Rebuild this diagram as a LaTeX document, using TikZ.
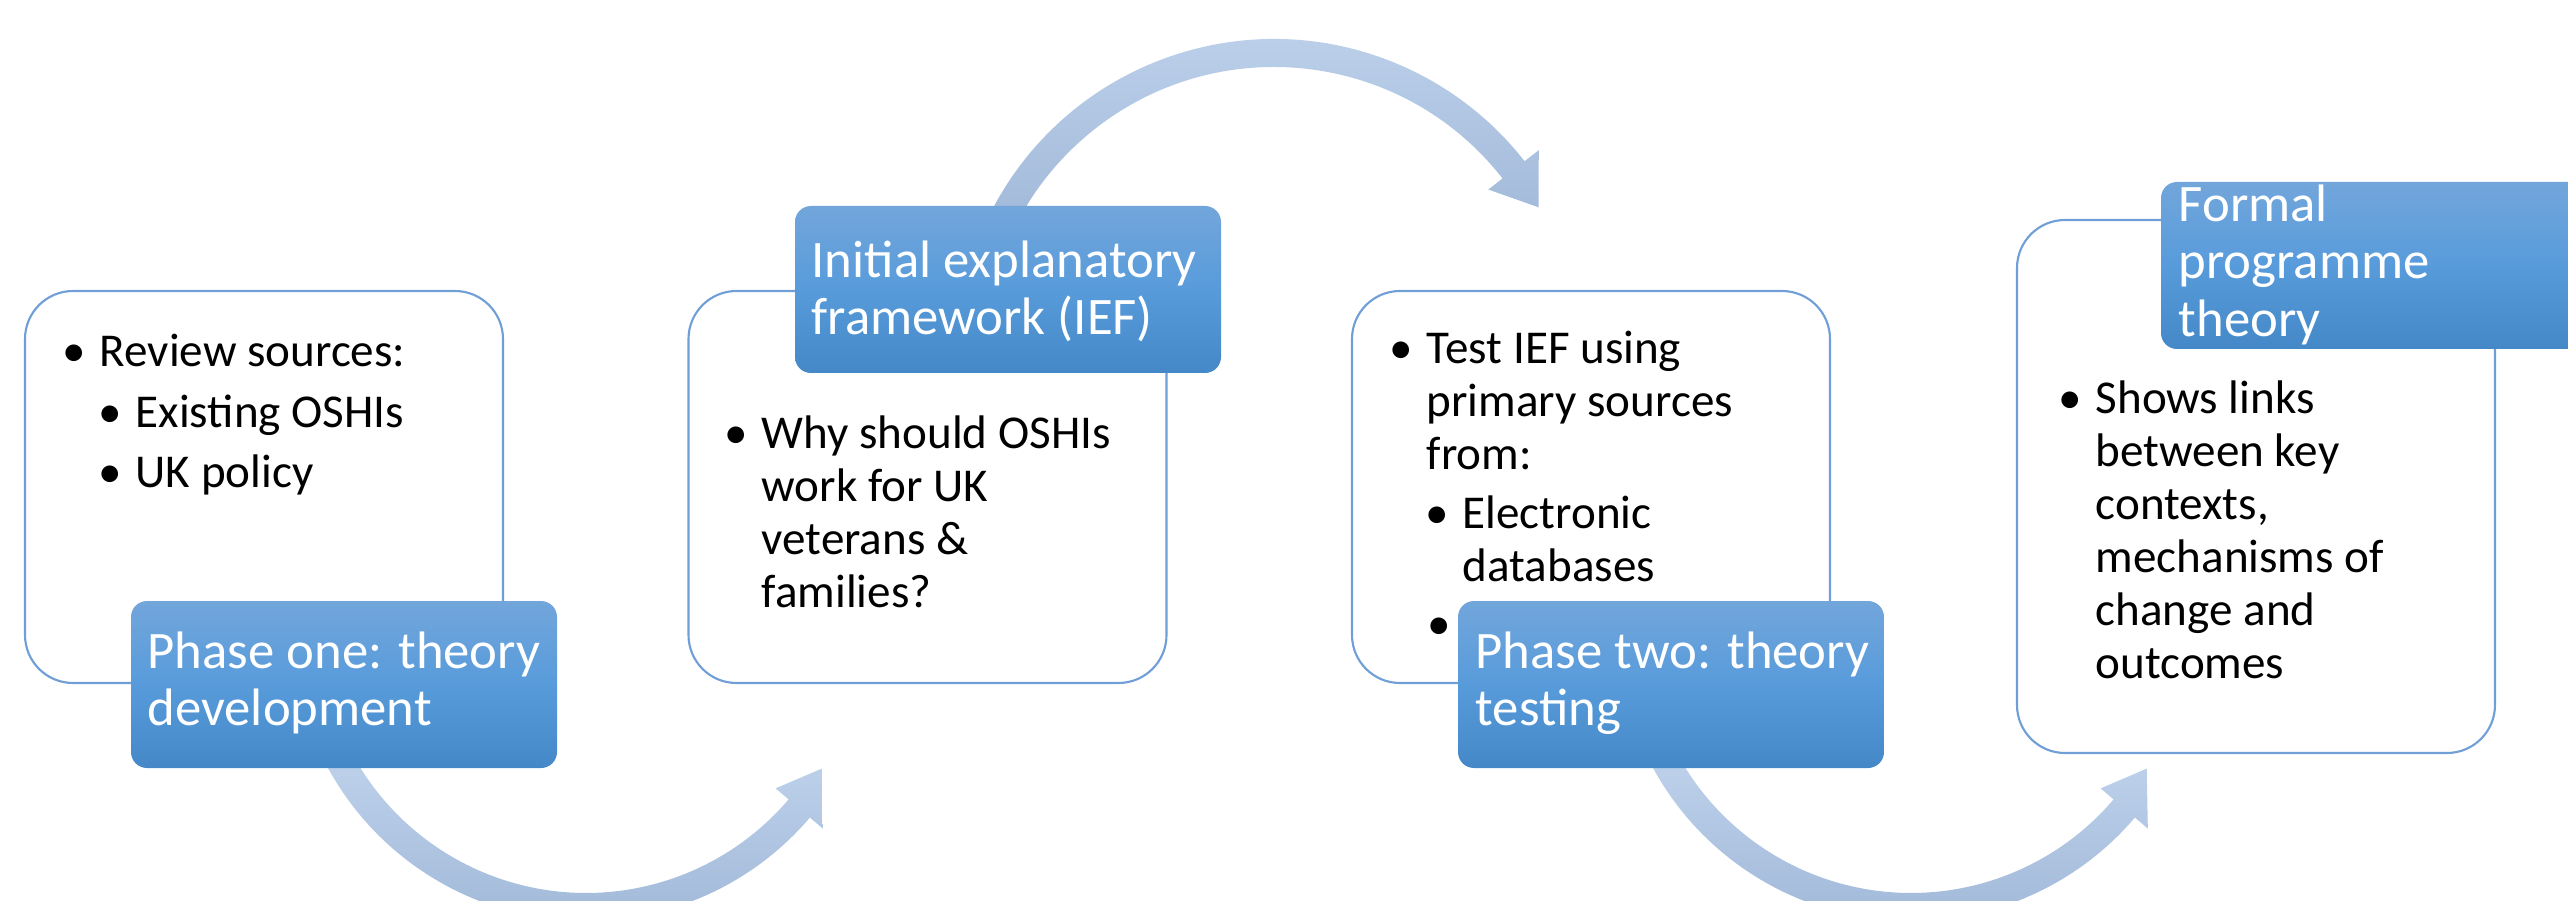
\documentclass[tikz,border=0pt]{standalone}
\usepackage{fontspec}
\setmainfont{Carlito}
\usepackage{tikz}
\usetikzlibrary{positioning}

\definecolor{panelline}{RGB}{112,158,214}
\definecolor{phasetop}{RGB}{114,166,219}
\definecolor{phasemid}{RGB}{88,155,219}
\definecolor{phasebot}{RGB}{68,136,199}
\definecolor{bandtop}{RGB}{193,212,237}
\definecolor{bandbot}{RGB}{160,184,216}

\newcommand{\itemdot}{\llap{\makebox[10.5pt][l]{\textbullet}}}

\begin{document}
\begin{tikzpicture}[
  panel/.style={draw=panelline, line width=0.6pt, fill=white, rounded corners=0.48cm,
    minimum width=4.78cm, minimum height=3.92cm, inner sep=0pt},
  phase/.style={top color=phasetop, bottom color=phasebot, middle color=phasemid, draw=none,
    rounded corners=0.16cm, minimum width=4.26cm, minimum height=1.67cm, inner sep=0pt},
  body/.style={font=\fontsize{13.4}{15.1}\selectfont, align=left, anchor=base west, inner sep=0pt},
  phasetxt/.style={font=\fontsize{15}{16.4}\selectfont, text=white, align=left, anchor=base west, inner sep=0pt},
  band/.style={top color=bandtop, bottom color=bandbot, draw=none}
]
\useasboundingbox (0,0) rectangle (25.68,9);

\coordinate (arcA) at (5.86,2.73);
\coordinate (arcB) at (12.74,5.43);
\coordinate (arcC) at (19.11,2.73);

\shade[band, shift={(arcA)}] (205:2.94) arc[start angle=205, end angle=319.6, radius=2.94]
  -- (319.6:3.11) -- (329:2.75) -- (319.6:2.49) -- (319.6:2.66)
  arc[start angle=319.6, end angle=205, radius=2.66] -- cycle;
\shade[band, shift={(arcB)}] (155:3.18) arc[start angle=155, end angle=38, radius=3.18]
  -- (38:3.36) -- (29.5:3.04) -- (38:2.72) -- (38:2.90)
  arc[start angle=38, end angle=155, radius=2.90] -- cycle;
\shade[band, shift={(arcC)}] (205:2.94) arc[start angle=205, end angle=319.6, radius=2.94]
  -- (319.6:3.11) -- (329:2.75) -- (319.6:2.49) -- (319.6:2.66)
  arc[start angle=319.6, end angle=205, radius=2.66] -- cycle;

\node[panel] (box1) at (2.64,4.13) {};
\node[panel] (box2) at (9.275,4.13) {};
\node[panel] (box3) at (15.91,4.13) {};
\node[panel, minimum height=5.33cm] (box4) at (22.56,4.135) {};

\node[body] (src) at (0.99,5.33) {\itemdot Review sources:};
\node[body] (oshi) at (1.35,4.73) {\itemdot Existing OSHIs};
\node[body] (pol) at (1.35,4.12) {\itemdot UK policy};
\node[body] (why) at (7.61,2.927) {\itemdot Why should OSHIs\\work for UK\\veterans \&\\families?};
\node[body] (test) at (14.26,4.308) {\itemdot Test IEF using\\primary sources\\from:};
\node[body] (elec) at (14.62,3.189) {\itemdot Electronic\\databases};
\node[body] (more) at (14.62,2.60) {\itemdot};
\node[body] (links) at (20.95,2.215) {\itemdot Shows links\\between key\\contexts,\\mechanisms of\\change and\\outcomes};

\node[phase] (ph1) at (3.44,2.155) {};
\node[phase] (ief) at (10.08,6.105) {};
\node[phase] (ph2) at (16.71,2.155) {};
\node[phase] (fpt) at (23.74,6.345) {};

\node[phasetxt] (ph1t) at (1.47,1.743) {Phase one: theory\\development};
\node[phasetxt] (ieft) at (8.11,5.653) {Initial explanatory\\framework (IEF)};
\node[phasetxt] (ph2t) at (14.75,1.743) {Phase two: theory\\testing};
\node[phasetxt] (fptt) at (21.78,5.636) {Formal\\programme\\theory};
\end{tikzpicture}
\end{document}
